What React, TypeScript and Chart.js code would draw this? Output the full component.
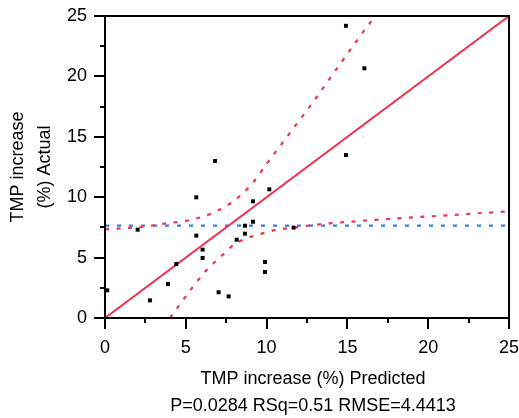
import React, { useEffect, useRef } from "react";
import { Chart, registerables } from "chart.js";

Chart.register(...registerables);

// Points: predicted (x) vs actual (y)
const predicted = [14.91, 16.05, 14.91, 6.81, 5.65, 10.17, 9.16, 9.16, 8.66, 8.66, 8.15, 11.67, 2.02, 5.65, 6.04, 6.04, 4.41, 9.9, 9.9, 3.9, 0.14, 7.03, 2.78, 7.65];
const actual = [24.19, 20.67, 13.49, 13.0, 9.99, 10.65, 9.66, 7.97, 7.64, 6.98, 6.48, 7.48, 7.31, 6.82, 5.66, 4.97, 4.47, 4.64, 3.81, 2.81, 2.29, 2.13, 1.46, 1.79];

// Fit line
const fitX = [0, 25];
const fitY = [0, 25];

// Mean of actual (horizontal reference line)
const meanX = [0, 25];
const meanY = [7.65, 7.65];

// Confidence curves
const upperX = [0, 2.37, 3.82, 5.26, 6.7, 7.94, 9.08, 10.0, 12.17, 12.62, 16.57, 16.8];
const upperY = [7.34, 7.56, 7.84, 8.11, 8.72, 9.66, 11.09, 12.75, 16.61, 17.41, 24.73, 25.1];
const lowerX = [4.02, 4.54, 5.37, 6.29, 7.43, 7.94, 9.18, 10.0, 10.72, 11.68, 12.89, 15.16, 18.15, 21.15, 24.03, 25];
const lowerY = [0, 0.95, 2.46, 3.97, 5.41, 6.04, 6.79, 7.09, 7.34, 7.48, 7.7, 7.97, 8.25, 8.5, 8.75, 8.82];

const axisMin = 0;
const axisMax = 25;
const tickStep = 2.5;
const majorStep = 5;

const xTitle = "TMP increase (%) Predicted";
const yTitle = ["TMP increase", "(%) Actual"];
const statsText = "P=0.0284 RSq=0.51 RMSE=4.4413";

const FAMILY = "'Liberation Sans', Arial, Helvetica, sans-serif";
const RED = "rgb(238, 52, 78)";
const BLUE = "rgb(58, 122, 240)";

const toXY = (xs: number[], ys: number[]) => xs.map((x, i) => ({ x, y: ys[i] }));

const framePlugin = {
  id: "frameAndTexts",
  afterDraw(chart: any) {
    const { ctx, chartArea } = chart;
    const { left, right, top, bottom } = chartArea;
    const xs = chart.scales.x;
    const ys = chart.scales.y;
    ctx.save();
    ctx.strokeStyle = "#000";
    ctx.lineWidth = 2;
    ctx.strokeRect(left, top, right - left, bottom - top);
    ctx.beginPath();
    xs.ticks.forEach((t: any) => {
      const px = Math.round(xs.getPixelForValue(t.value));
      const len = Math.abs(t.value % majorStep) < 1e-6 ? 11 : 5;
      ctx.moveTo(px, bottom);
      ctx.lineTo(px, bottom + len);
    });
    ys.ticks.forEach((t: any) => {
      const py = Math.round(ys.getPixelForValue(t.value));
      const len = Math.abs(t.value % majorStep) < 1e-6 ? 11 : 5;
      ctx.moveTo(left, py);
      ctx.lineTo(left - len, py);
    });
    ctx.stroke();
    ctx.fillStyle = "#000";
    ctx.font = `18px ${FAMILY}`;
    ctx.textAlign = "center";
    ctx.textBaseline = "middle";
    const cx = (left + right) / 2 + 6;
    ctx.fillText(xTitle, cx, bottom + 61);
    ctx.fillText(statsText, cx, bottom + 88);
    ctx.restore();
  },
};

export default function App() {
  const ref = useRef<HTMLCanvasElement | null>(null);

  useEffect(() => {
    document.body.style.margin = "0";
    document.body.style.overflow = "hidden";
    const canvas = ref.current;
    if (!canvas) return;
    const tickFont = { size: 18, family: FAMILY };
    const majorLabel = (v: any) => (Math.abs(Number(v) % majorStep) < 1e-6 ? String(v) : "");
    const chart = new Chart(canvas, {
      type: "scatter",
      data: {
        datasets: [
          {
            label: "points",
            data: toXY(predicted, actual),
            pointStyle: "rect",
            pointRadius: 2.8,
            pointBorderWidth: 0,
            backgroundColor: "#000",
            borderColor: "#000",
            showLine: false,
          },
          {
            label: "fit",
            data: toXY(fitX, fitY),
            showLine: true,
            borderColor: RED,
            borderWidth: 2,
            pointRadius: 0,
          },
          {
            label: "upper",
            data: toXY(upperX, upperY),
            showLine: true,
            borderColor: RED,
            borderWidth: 2.2,
            borderDash: [4, 7.5],
            cubicInterpolationMode: "monotone",
            pointRadius: 0,
          },
          {
            label: "lower",
            data: toXY(lowerX, lowerY),
            showLine: true,
            borderColor: RED,
            borderWidth: 2.2,
            borderDash: [4, 7.5],
            cubicInterpolationMode: "monotone",
            pointRadius: 0,
          },
          {
            label: "mean",
            data: toXY(meanX, meanY),
            showLine: true,
            borderColor: BLUE,
            borderWidth: 2.2,
            borderDash: [4, 8],
            pointRadius: 0,
          },
        ],
      },
      options: {
        responsive: false,
        animation: false,
        events: [],
        layout: { padding: { left: 0, right: 10, top: 16, bottom: 0 } },
        plugins: { legend: { display: false }, tooltip: { enabled: false } },
        scales: {
          x: {
            type: "linear",
            min: axisMin,
            max: axisMax,
            ticks: { stepSize: tickStep, autoSkip: false, maxRotation: 0, padding: 8, color: "#000", font: tickFont, callback: majorLabel },
            grid: { drawOnChartArea: false, drawTicks: true, tickLength: 11, tickColor: "rgba(0,0,0,0)" },
            border: { display: false },
            afterFit(s: any) {
              s.height = 100;
              s.paddingLeft = 0;
              s.paddingRight = 0;
            },
          },
          y: {
            type: "linear",
            min: axisMin,
            max: axisMax,
            ticks: { stepSize: tickStep, autoSkip: false, padding: 7, color: "#000", font: tickFont, callback: majorLabel },
            grid: { drawOnChartArea: false, drawTicks: true, tickLength: 11, tickColor: "rgba(0,0,0,0)" },
            border: { display: false },
            title: {
              display: true,
              text: yTitle,
              color: "#000",
              font: { size: 18, family: FAMILY, lineHeight: 1.53 },
              padding: { top: 4, bottom: 0 },
            },
            afterFit(s: any) {
              s.width = 105;
              s.paddingTop = 0;
              s.paddingBottom = 0;
            },
          },
        },
      },
      plugins: [framePlugin],
    } as any);
    return () => chart.destroy();
  }, []);

  return (
    <div style={{ width: 519, height: 418 }}>
      <canvas ref={ref} width={519} height={418} style={{ display: "block" }} />
    </div>
  );
}
